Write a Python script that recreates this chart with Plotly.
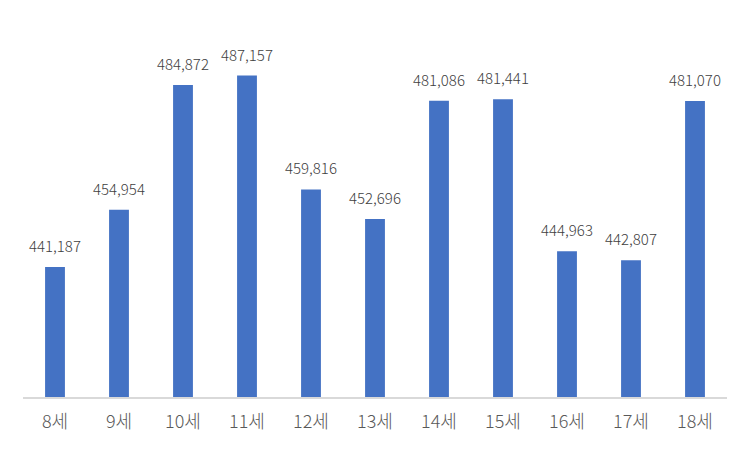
import plotly.graph_objects as go

categories = ["8세", "9세", "10세", "11세", "12세", "13세", "14세", "15세", "16세", "17세", "18세"]
values = [441187, 454954, 484872, 487157, 459816, 452696, 481086, 481441, 444963, 442807, 481070]
labels = [f"{v:,}" for v in values]

FONT = "Noto Sans CJK KR"

fig = go.Figure(go.Bar(
    x=categories, y=values,
    marker=dict(color="#4472C4", line=dict(width=0)),
    width=0.31,
    hoverinfo="x+y",
))
for c, v, t in zip(categories, values, labels):
    fig.add_annotation(
        x=c, y=v, text=t, showarrow=False, yanchor="bottom", yshift=9,
        font=dict(size=15, color="#404040", family=FONT, weight=300),
    )
fig.update_layout(
    width=750, height=450,
    margin=dict(l=15, r=31, t=14, b=61),
    paper_bgcolor="white", plot_bgcolor="white",
    showlegend=False,
    xaxis=dict(showline=True, linecolor="#D9D9D9", linewidth=1.5, ticks="",
               ticklabelstandoff=8,
               tickfont=dict(size=18, color="#595959", family=FONT, weight=300)),
    yaxis=dict(range=[410000, 500000], visible=False, showgrid=False),
)
fig.write_html("out.html")
